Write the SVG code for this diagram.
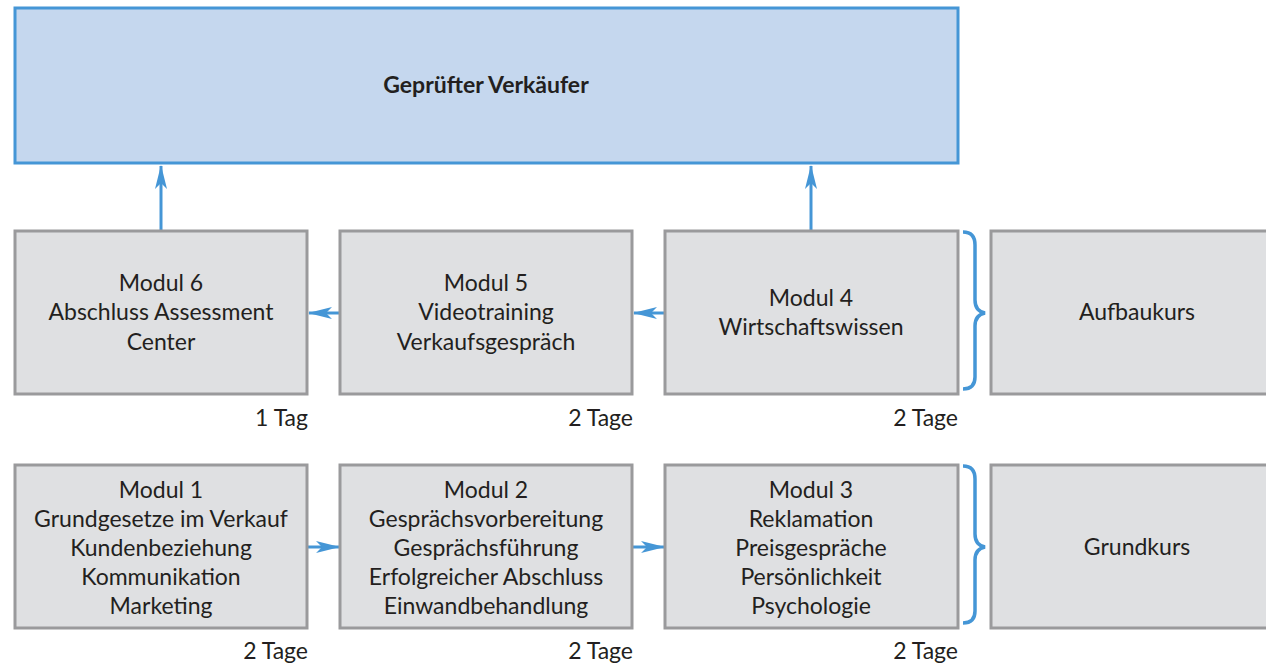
<svg xmlns="http://www.w3.org/2000/svg" width="1266" height="667" viewBox="0 0 1266 667">
<defs>
<style>
.box{fill:#dfe0e2;stroke:#9a9a9c;stroke-width:3}
.top{fill:#c5d7ee;stroke:#4596d6;stroke-width:3}
text{font-family:Lato,"Open Sans",sans-serif;font-size:23px;fill:#231f20}
.c{text-anchor:middle}
.r{text-anchor:end}
.b{font-weight:bold}
.con{stroke:#4596d6;stroke-width:3;fill:none}
.brace{stroke:#4596d6;stroke-width:3.5;fill:none}
</style>
<marker id="ah" viewBox="0 0 24 12" refX="23" refY="6" markerWidth="24" markerHeight="12" markerUnits="userSpaceOnUse" orient="auto">
<path d="M0,0 L24,6 L0,12 L6,6 Z" fill="#4596d6"/>
</marker>
</defs>
<rect width="1266" height="667" fill="#ffffff"/>
<g id="connectors">
<line class="con" x1="161" y1="230" x2="161" y2="166" marker-end="url(#ah)"/>
<line class="con" x1="811" y1="230" x2="811" y2="166" marker-end="url(#ah)"/>
<line class="con" x1="340" y1="313" x2="309" y2="313" marker-end="url(#ah)"/>
<line class="con" x1="665" y1="313" x2="634" y2="313" marker-end="url(#ah)"/>
<line class="con" x1="307" y1="547" x2="339" y2="547" marker-end="url(#ah)"/>
<line class="con" x1="632" y1="547" x2="664" y2="547" marker-end="url(#ah)"/>
</g>
<g id="pruefer">
<rect class="top" x="15" y="8" width="943" height="155"/>
<text class="c b" x="486" y="93">Geprüfter Verkäufer</text>
</g>
<g id="modul6">
<rect class="box" x="15" y="231" width="292" height="163"/>
<text class="c" x="161" y="291">Modul 6</text>
<text class="c" x="161" y="320">Abschluss Assessment</text>
<text class="c" x="161" y="350">Center</text>
<text class="r" x="308" y="426">1 Tag</text>
</g>
<g id="modul5">
<rect class="box" x="340" y="231" width="292" height="163"/>
<text class="c" x="486" y="291">Modul 5</text>
<text class="c" x="486" y="320">Videotraining</text>
<text class="c" x="486" y="350">Verkaufsgespräch</text>
<text class="r" x="633" y="426">2 Tage</text>
</g>
<g id="modul4">
<rect class="box" x="665" y="231" width="293" height="163"/>
<text class="c" x="811" y="306">Modul 4</text>
<text class="c" x="811" y="335">Wirtschaftswissen</text>
<text class="r" x="958" y="426">2 Tage</text>
</g>
<g id="aufbaukurs">
<path class="brace" d="M963,232 Q975,232 975,245 L975,300 Q975,311 985,313 Q975,315 975,326 L975,377 Q975,389 963,389"/>
<rect class="box" x="991" y="231" width="280" height="163"/>
<text class="c" x="1137" y="320">Aufbaukurs</text>
</g>
<g id="modul1">
<rect class="box" x="15" y="465" width="292" height="163"/>
<text class="c" x="161" y="498">Modul 1</text>
<text class="c" x="161" y="527">Grundgesetze im Verkauf</text>
<text class="c" x="161" y="556">Kundenbeziehung</text>
<text class="c" x="161" y="585">Kommunikation</text>
<text class="c" x="161" y="614">Marketing</text>
<text class="r" x="308" y="659">2 Tage</text>
</g>
<g id="modul2">
<rect class="box" x="340" y="465" width="292" height="163"/>
<text class="c" x="486" y="498">Modul 2</text>
<text class="c" x="486" y="527">Gesprächsvorbereitung</text>
<text class="c" x="486" y="556">Gesprächsführung</text>
<text class="c" x="486" y="585">Erfolgreicher Abschluss</text>
<text class="c" x="486" y="614">Einwandbehandlung</text>
<text class="r" x="633" y="659">2 Tage</text>
</g>
<g id="modul3">
<rect class="box" x="665" y="465" width="293" height="163"/>
<text class="c" x="811" y="498">Modul 3</text>
<text class="c" x="811" y="527">Reklamation</text>
<text class="c" x="811" y="556">Preisgespräche</text>
<text class="c" x="811" y="585">Persönlichkeit</text>
<text class="c" x="811" y="614">Psychologie</text>
<text class="r" x="958" y="659">2 Tage</text>
</g>
<g id="grundkurs">
<path class="brace" d="M963,466 Q975,466 975,479 L975,534 Q975,545 985,547 Q975,549 975,560 L975,611 Q975,623 963,623"/>
<rect class="box" x="991" y="465" width="280" height="163"/>
<text class="c" x="1137" y="555">Grundkurs</text>
</g>
</svg>
